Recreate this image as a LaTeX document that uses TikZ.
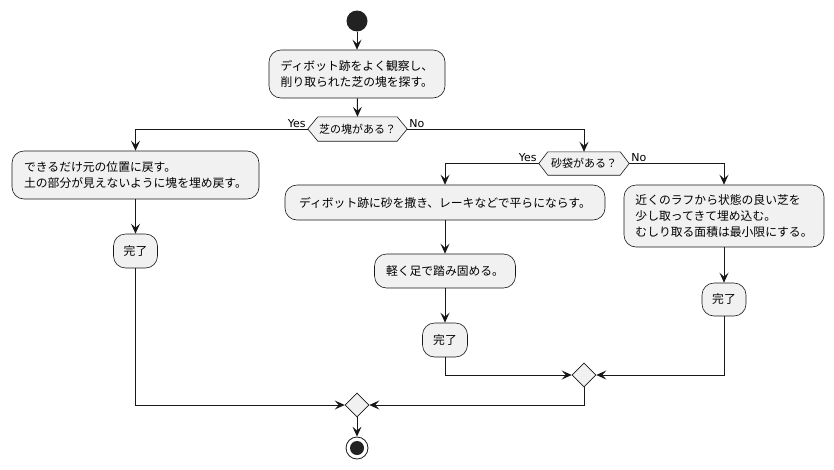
\documentclass[tikz,border=0pt]{standalone}
\usepackage{fontspec}
\usetikzlibrary{arrows.meta,shapes.geometric,calc}
\newfontfamily\jpfont{Noto Sans CJK JP}
\newfontfamily\latfont{DejaVu Sans}
\definecolor{linec}{HTML}{181818}
\definecolor{boxf}{HTML}{F1F1F1}
\definecolor{startc}{HTML}{222222}
\pgfdeclarelayer{background}
\pgfsetlayers{background,main}
\tikzset{
  act/.style={draw=linec, fill=boxf, rounded corners=12pt, align=left, inner sep=0pt,
    line width=0.6pt, font=\jpfont\fontsize{11.8}{16}\selectfont},
  hexlabel/.style={inner sep=0pt, font=\jpfont\fontsize{11}{14}\selectfont},
  hexbox/.style={draw=linec, fill=boxf, line width=0.6pt},
  merge/.style={diamond, draw=linec, fill=boxf, line width=0.6pt, minimum width=24pt, minimum height=24pt, inner sep=0pt},
  flow/.style={draw=linec, line width=1pt, -{Stealth[length=10pt,width=9pt,inset=4pt]}},
  guard/.style={inner sep=0pt, font=\latfont\fontsize{11}{13}\selectfont},
}
\begin{document}
\begin{tikzpicture}[x=1pt,y=-1pt]
\useasboundingbox (0,0) rectangle (834,469);
% start
\node[circle, fill=startc, minimum size=21pt, inner sep=0pt] (start) at (357,21) {};
% activities
\node[act, minimum width=176pt, minimum height=48pt] (b1) at (357,74)
  {ディボット跡をよく観察し、\\削り取られた芝の塊を探す。};
\node[hexlabel, minimum width=99pt, minimum height=24pt] (d1) at (357.5,129) {芝の塊がある？};
\node[act, minimum width=247pt, minimum height=48pt] (b2) at (135.5,175)
  {できるだけ元の位置に戻す。\\土の部分が見えないように塊を埋め戻す。};
\node[act, minimum width=44pt, minimum height=34pt] (k1) at (135.5,251) {完了};
\node[hexlabel, minimum width=90pt, minimum height=23pt] (d2) at (584,163.5) {砂袋がある？};
\node[act, minimum width=320pt, minimum height=35pt] (b3) at (445,202.5)
  {ディボット跡に砂を撒き、レーキなどで平らにならす。};
\node[act, minimum width=141pt, minimum height=34pt] (b4) at (445,271) {軽く足で踏み固める。};
\node[act, minimum width=45pt, minimum height=34pt] (k2) at (445,340) {完了};
\node[act, minimum width=200pt, minimum height=62pt] (b5) at (724,216)
  {近くのラフから状態の良い芝を\\少し取ってきて埋め込む。\\むしり取る面積は最小限にする。};
\node[act, minimum width=44pt, minimum height=33pt] (k3) at (724,299.5) {完了};
\node[merge] (m1) at (584,375) {};
\node[merge] (m2) at (357,405) {};
\node[circle, draw=linec, line width=0.8pt, fill=white, minimum size=22pt, inner sep=0pt] (stop) at (357,448) {};
\node[circle, fill=startc, minimum size=14pt, inner sep=0pt] (stopdot) at (stop.center) {};
% hexagons behind their labels
\begin{pgfonlayer}{background}
\path[hexbox] (d1.west) -- ([xshift=10pt]d1.north west) -- ([xshift=-10pt]d1.north east) -- (d1.east)
  -- ([xshift=-10pt]d1.south east) -- ([xshift=10pt]d1.south west) -- cycle;
\path[hexbox] (d2.west) -- ([xshift=9pt]d2.north west) -- ([xshift=-9pt]d2.north east) -- (d2.east)
  -- ([xshift=-9pt]d2.south east) -- ([xshift=9pt]d2.south west) -- cycle;
\end{pgfonlayer}
% connectors
\draw[flow] (start) -- (b1);
\draw[flow] (b1) -- (d1.north);
\draw[flow] (d1.west) -| (b2.north);
\draw[flow] (d1.east) -| (d2.north);
\draw[flow] (b2) -- (k1);
\draw[flow] (k1.south) |- (m2.west);
\draw[flow] (d2.west) -| (b3.north);
\draw[flow] (d2.east) -| (b5.north);
\draw[flow] (b3) -- (b4);
\draw[flow] (b4) -- (k2);
\draw[flow] (k2.south) |- (m1.west);
\draw[flow] (b5) -- (k3);
\draw[flow] (k3.south) |- (m1.east);
\draw[flow] (m1.south) |- (m2.east);
\draw[flow] (m2.south) -- (stop.north);
% guards
\node[guard, anchor=base east] (g1) at ([xshift=-2pt,yshift=2pt]d1.west) {Yes};
\node[guard, anchor=base west] (g2) at ([xshift=2pt,yshift=2pt]d1.east) {No};
\node[guard, anchor=base east] (g3) at ([xshift=-2pt,yshift=2pt]d2.west) {Yes};
\node[guard, anchor=base west] (g4) at ([xshift=2pt,yshift=2pt]d2.east) {No};
\end{tikzpicture}
\end{document}
